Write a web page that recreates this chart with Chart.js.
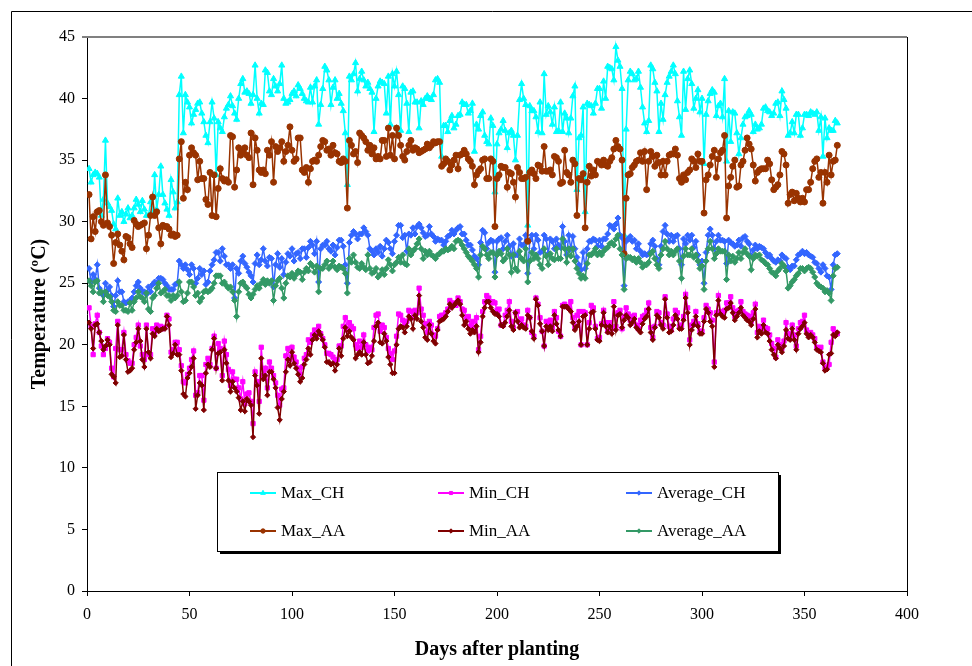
<!DOCTYPE html>
<html>
<head>
<meta charset="utf-8">
<title>Temperature</title>
<script src="https://cdn.jsdelivr.net/npm/chart.js@4.4.1/dist/chart.umd.min.js"></script>
<style>
  html, body { margin: 0; padding: 0; background: #ffffff; }
  #wrap { width: 972px; height: 666px; }
</style>
</head>
<body>
<div id="wrap"><canvas id="c" width="972" height="666"></canvas></div>
<script>
// Daily temperatures (°C) over the season, by day after planting (1..366)
const maxCH = [
34.3,33.2,33.8,34.0,33.9,33.6,30.5,31.8,36.6,31.5,
31.2,30.9,29.8,29.4,31.9,30.5,30.8,30.0,30.6,31.1,
30.3,30.5,31.1,31.8,31.4,30.8,31.7,31.0,30.5,30.5,
31.6,30.8,33.8,31.0,32.2,34.5,32.2,31.5,31.0,30.5,
33.4,32.4,31.1,31.6,40.3,41.8,37.2,40.3,39.7,39.3,
38.0,38.7,39.1,39.6,39.7,38.8,38.1,37.0,36.4,38.1,
39.7,38.4,33.8,38.1,37.6,37.3,38.5,39.2,39.5,40.2,
39.4,38.8,38.3,40.0,41.2,41.6,40.5,40.6,40.4,39.6,
40.3,42.7,40.0,38.8,39.6,39.5,42.3,42.1,40.6,40.3,
41.6,41.0,40.6,41.2,42.7,40.0,39.6,39.7,39.9,40.4,
40.6,40.2,41.1,40.8,40.4,40.0,39.8,39.7,40.9,39.7,
41.0,41.5,37.9,39.5,40.8,42.6,42.3,41.5,39.5,40.9,
41.5,40.0,40.4,39.6,39.0,37.2,33.0,41.8,41.5,42.0,
42.9,40.6,41.6,42.2,41.5,41.0,41.3,40.8,40.5,37.3,
40.0,41.0,41.4,41.3,41.2,38.8,41.8,37.9,42.0,41.0,
42.2,40.3,37.4,41.0,40.8,39.6,37.3,40.5,40.6,39.7,
39.7,37.6,39.8,39.5,40.0,40.2,40.0,39.9,40.3,41.5,
41.6,41.3,35.3,37.8,37.8,37.3,38.2,38.6,37.6,37.9,
38.6,38.7,39.7,39.5,39.5,38.8,39.0,39.6,35.7,37.9,
37.5,38.6,38.9,37.0,36.5,36.3,38.4,37.8,32.4,36.3,
37.2,37.5,38.2,37.4,36.0,37.2,37.4,37.0,35.0,37.0,
39.9,41.2,40.0,39.5,29.7,39.4,39.0,39.0,38.5,37.3,
39.7,37.2,42.0,38.7,39.4,38.9,37.9,39.3,37.3,37.4,
39.7,37.3,38.8,38.4,37.2,38.4,40.2,41.0,32.6,36.8,
37.0,39.3,30.8,39.6,39.5,39.4,38.8,39.6,40.8,40.8,
39.2,41.4,40.0,42.6,42.5,42.4,41.5,44.2,43.1,42.6,
40.8,28.9,37.5,41.5,42.2,42.0,41.5,41.6,42.2,40.9,
39.3,38.0,37.3,38.2,42.7,42.4,41.3,40.6,37.3,39.6,
38.3,40.3,41.3,41.8,42.2,42.7,42.0,39.8,38.5,37.0,
42.2,39.1,41.6,42.3,41.2,39.2,40.0,40.7,38.9,40.0,
34.7,38.7,39.8,40.4,40.7,40.5,38.6,39.4,39.6,38.5,
41.6,34.9,39.0,36.5,38.9,38.8,37.2,35.5,36.8,37.9,
38.5,38.6,39.0,38.7,37.3,37.9,37.5,37.6,37.9,39.2,
39.3,39.0,38.9,38.6,38.8,39.6,39.7,38.6,40.6,39.9,
39.2,37.0,37.2,38.1,37.2,38.7,38.7,37.0,37.6,38.7,
38.7,38.6,38.9,38.8,38.7,38.9,37.4,38.5,35.3,38.4,
36.8,37.6,37.4,37.4,38.2,38.0
];

const minCH = [
23.0,21.5,19.2,21.7,22.4,21.0,19.9,19.2,19.7,20.5,
20.2,18.1,17.4,19.7,21.9,19.6,19.6,21.0,19.2,18.7,
18.5,18.5,20.0,20.6,21.6,19.9,19.2,18.8,21.6,19.2,
19.2,21.3,21.0,21.6,21.2,21.5,21.3,21.4,22.4,22.1,
19.4,19.6,20.2,20.2,19.6,18.3,17.0,16.9,17.6,18.1,
18.8,19.5,15.9,16.1,17.5,17.5,15.5,18.4,18.9,18.4,
19.7,20.7,18.1,20.1,19.7,17.5,20.3,19.2,18.0,16.7,
17.8,17.2,17.2,16.5,15.6,17.0,15.2,16.0,16.1,15.4,
13.6,17.8,17.0,15.4,19.8,17.5,18.1,16.5,18.6,18.1,
17.5,16.9,15.9,15.1,16.4,16.5,19.1,19.7,18.8,19.8,
19.0,18.6,18.1,17.6,18.2,18.9,19.2,20.4,20.2,20.8,
21.2,20.8,21.5,20.9,20.5,20.0,19.3,19.3,19.2,19.0,
18.6,18.8,19.9,19.9,21.5,22.2,21.2,21.8,21.5,21.3,
20.0,19.7,20.3,19.8,20.8,20.0,19.5,19.8,19.6,21.4,
22.4,22.5,21.1,21.6,21.4,20.6,19.7,19.3,18.8,19.5,
20.7,22.5,22.4,22.0,21.7,21.9,22.8,22.7,22.2,22.8,
22.6,24.6,22.9,22.4,21.7,21.0,21.9,21.6,20.8,20.7,
21.3,22.3,22.4,22.4,22.6,22.9,23.6,23.3,23.4,23.2,
23.8,23.5,22.9,22.8,22.2,22.3,21.5,21.9,21.3,22.2,
19.6,20.7,22.7,23.5,24.0,23.8,23.4,23.5,23.4,22.8,
22.9,21.6,21.6,22.4,22.8,23.5,21.9,21.4,22.6,22.7,
21.8,22.1,21.6,21.5,22.8,22.2,21.0,20.7,23.8,23.3,
22.2,21.1,19.9,21.9,21.6,22.0,21.4,22.7,22.2,21.1,
20.7,23.2,23.3,23.1,23.0,23.5,22.2,21.4,22.4,22.7,
20.0,22.7,22.6,20.0,21.8,23.2,23.0,21.5,20.5,20.6,
21.7,22.8,21.8,21.1,21.8,21.3,23.5,21.5,22.6,22.8,
21.3,22.3,23.0,22.5,22.0,22.3,22.4,21.6,21.3,22.0,
22.3,22.4,22.8,23.4,21.4,20.6,21.5,22.7,22.6,21.8,
21.6,23.9,22.5,21.5,21.2,22.1,22.8,22.6,21.5,21.6,
22.3,24.1,23.0,20.4,21.6,21.9,22.7,21.7,21.1,21.1,
22.2,23.2,22.9,22.6,22.0,18.6,22.6,24.0,22.7,22.6,
22.8,23.4,23.4,23.9,23.0,22.3,22.7,22.8,23.5,22.7,
22.5,22.4,22.3,21.9,22.6,23.3,21.0,21.5,21.3,22.0,
21.4,21.3,20.8,20.1,19.7,19.0,20.4,20.0,19.7,20.3,
21.8,20.9,20.7,21.6,20.8,19.9,21.3,21.8,21.9,22.4,
21.2,20.8,21.0,20.8,20.5,19.8,19.7,19.8,18.6,18.1,
18.2,18.4,20.2,21.3,21.0,20.9
];

const avgCH = [
26.2,25.1,25.7,25.3,26.5,24.6,24.2,24.0,25.0,24.4,
24.7,24.0,23.1,24.0,25.2,24.3,24.3,23.5,23.4,23.5,
23.6,23.8,24.3,24.8,25.1,24.6,24.3,24.3,24.1,24.7,
24.3,24.9,25.1,25.0,25.4,25.4,25.3,25.0,24.8,24.5,
24.5,24.5,24.9,25.0,26.8,26.5,26.2,26.5,26.1,25.7,
26.5,26.2,25.0,25.4,26.2,25.7,26.0,24.9,25.1,26.0,
26.5,26.9,27.5,27.5,26.8,27.8,27.2,26.5,26.5,26.2,
26.5,23.8,26.2,25.8,26.8,27.2,26.6,26.3,25.9,25.6,
25.1,26.6,27.3,26.5,26.9,27.8,26.8,26.4,27.1,27.0,
24.7,26.5,27.4,26.3,27.0,25.7,26.7,27.4,27.2,27.8,
26.8,27.4,27.5,27.0,27.8,27.8,27.1,27.9,28.4,28.1,
27.4,28.4,25.1,27.8,28.1,28.1,28.4,27.8,27.6,28.1,
27.3,27.9,28.5,28.5,28.0,26.5,25.0,28.3,28.9,29.2,
29.0,28.6,29.0,29.0,29.5,29.2,28.9,27.8,27.6,27.3,
27.8,27.5,28.0,27.2,27.8,28.5,28.3,27.8,27.4,28.4,
28.9,29.7,29.7,28.7,28.9,27.6,29.0,28.9,29.5,29.0,
29.6,29.8,29.5,29.1,28.8,28.9,29.6,29.0,28.8,28.4,
28.6,28.5,28.5,28.1,28.4,28.8,28.9,29.3,29.0,29.3,
29.5,29.6,29.0,29.0,28.5,28.1,28.1,27.7,27.2,27.0,
26.5,28.3,29.3,29.1,27.8,28.3,28.5,28.4,25.9,28.4,
28.6,28.7,27.8,28.4,28.9,28.0,27.2,28.2,27.3,27.3,
28.6,28.1,28.1,28.9,25.8,28.5,28.9,27.8,28.9,28.5,
27.5,27.6,28.9,28.6,27.4,28.6,28.4,27.8,28.6,28.1,
27.9,29.6,28.4,27.3,28.9,27.8,28.8,27.8,27.1,26.5,
26.1,27.5,26.2,27.8,28.4,28.4,28.6,28.5,28.0,28.5,
28.0,28.6,28.6,29.0,29.7,29.6,29.4,29.8,30.3,28.9,
28.7,24.8,28.4,28.6,28.8,28.4,28.5,27.8,28.2,27.6,
27.3,27.4,27.3,27.4,28.2,28.5,28.0,27.0,26.5,28.0,
29.2,29.7,29.0,28.4,28.9,28.4,28.8,28.9,27.8,26.5,
28.6,28.2,28.9,28.5,28.9,27.9,28.4,27.3,26.5,26.8,
25.0,27.5,28.9,29.4,28.9,27.8,28.4,28.9,28.5,28.5,
28.4,26.6,28.5,28.3,28.2,28.0,28.1,28.5,28.0,28.7,
28.8,28.4,28.2,27.2,27.7,28.1,27.8,28.0,27.9,27.8,
27.5,27.2,27.3,27.0,26.8,26.7,26.9,26.8,27.3,27.1,
27.0,26.3,26.1,26.4,26.4,26.9,27.3,27.4,27.6,27.4,
27.5,27.3,27.2,27.1,26.7,26.6,26.2,25.9,26.5,26.2,
25.6,25.5,24.5,26.5,27.3,27.4
];

const maxAA = [
32.2,28.6,30.4,29.2,30.8,30.9,30.0,29.7,33.8,29.9,
29.6,28.9,26.6,28.3,29.0,28.1,27.6,26.9,28.8,28.7,
28.2,27.9,30.1,29.8,29.6,29.7,29.8,29.9,27.8,28.9,
30.5,32.0,30.5,30.8,29.5,28.2,29.7,29.6,29.6,29.4,
28.9,29.0,28.8,28.9,35.1,36.5,31.9,33.2,32.6,35.4,
36.0,35.6,35.4,33.4,34.9,33.5,33.5,31.8,31.4,34.0,
30.5,33.8,30.4,32.7,34.3,33.5,33.3,33.4,33.2,37.0,
36.9,32.8,34.2,36.0,35.4,35.7,36.0,35.4,35.2,37.2,
33.0,36.8,35.8,34.2,34.0,34.2,33.9,35.8,35.4,36.5,
33.2,36.1,35.7,36.0,36.5,34.9,35.7,36.2,37.7,35.8,
34.9,35.1,36.8,36.8,34.2,34.0,34.4,33.2,34.3,34.9,
35.0,34.9,35.4,36.1,36.6,36.5,35.8,35.9,35.4,36.2,
35.6,35.5,34.9,34.8,35.1,34.9,31.1,36.6,36.2,35.5,
35.7,34.8,37.2,37.0,36.8,36.5,35.8,36.2,35.5,36.0,
35.1,35.3,35.1,36.6,36.6,35.3,37.6,35.4,37.0,35.1,
37.6,37.0,36.2,35.3,35.0,35.7,36.2,36.6,35.8,36.0,
35.9,35.6,35.7,35.8,35.9,36.3,36.0,36.2,36.5,36.4,
36.5,36.5,34.5,34.7,35.1,34.9,34.2,34.6,35.0,35.4,
34.3,35.4,35.5,35.8,35.5,35.1,34.9,34.5,33.0,33.8,
34.1,34.3,35.0,35.1,33.5,33.5,35.1,34.9,29.6,33.5,
33.8,34.5,34.4,34.4,32.8,34.0,33.9,33.2,32.0,34.4,
34.0,33.5,33.5,33.6,28.4,34.0,34.2,33.9,33.5,34.6,
34.5,34.1,36.1,34.1,34.1,34.2,33.8,35.3,35.2,34.9,
33.1,33.2,35.8,34.0,33.8,33.2,35.0,34.7,30.5,33.5,
33.4,33.9,29.5,33.2,34.5,33.7,34.2,33.8,34.9,34.8,
34.6,35.0,34.6,34.5,34.9,35.2,35.9,36.6,36.1,35.9,
35.0,27.4,31.9,33.8,33.9,34.4,34.6,34.9,35.0,35.6,
34.9,35.7,32.6,34.9,35.7,35.3,34.5,35.4,34.8,33.8,
34.9,33.8,34.9,35.4,35.5,35.5,35.9,35.4,33.5,33.2,
33.8,33.4,34.0,34.2,35.1,34.9,34.4,35.5,34.9,34.9,
30.7,33.4,33.8,34.6,35.3,35.8,33.6,35.1,35.6,35.8,
37.0,30.3,32.9,33.6,34.5,35.0,32.8,32.9,34.6,34.9,
35.8,36.8,36.3,35.9,34.6,33.3,34.0,34.2,34.3,34.3,
34.3,35.0,34.7,33.4,32.6,32.8,33.0,33.8,35.7,35.5,
34.6,31.5,32.2,32.4,31.7,32.3,31.9,31.6,31.9,31.6,
32.6,32.6,33.2,34.3,34.9,35.1,33.6,34.0,31.5,34.0,
33.2,35.4,33.8,34.9,35.0,36.2
];

const minAA = [
21.8,21.3,19.7,21.6,21.7,21.0,20.3,19.6,19.9,20.4,
20.0,17.6,17.4,16.9,21.6,19.0,19.1,20.8,18.8,17.8,
17.9,18.1,19.6,20.2,21.3,20.3,18.8,18.2,21.3,19.4,
18.9,20.9,20.7,21.3,21.1,21.2,21.3,21.3,22.3,21.6,
19.0,19.3,20.0,19.2,19.2,17.9,16.0,15.8,17.3,17.7,
18.2,18.9,14.8,15.9,16.9,16.7,14.7,17.7,18.4,18.2,
19.6,20.5,18.1,19.3,19.4,17.1,19.6,18.5,17.1,16.2,
17.0,16.5,16.2,15.7,14.7,15.4,14.6,15.6,15.4,15.1,
12.5,17.5,16.7,14.4,18.9,17.2,17.5,15.9,17.8,17.8,
17.2,16.5,14.9,13.9,15.6,16.2,17.8,18.8,18.3,19.4,
18.5,18.1,17.6,17.0,17.3,18.4,18.8,19.7,19.2,20.4,
20.8,20.5,21.1,20.8,20.4,19.8,18.6,18.6,18.4,18.5,
17.9,18.4,19.7,19.1,20.5,21.4,20.7,21.1,20.6,20.4,
18.9,19.2,19.4,19.2,20.2,19.2,18.5,18.6,19.1,20.3,
21.5,21.8,20.2,20.1,20.9,20.3,19.0,18.4,17.7,17.7,
20.0,21.3,21.5,21.4,21.0,21.5,22.3,22.1,21.3,22.4,
22.1,24.0,21.9,21.4,20.6,20.4,21.6,20.9,20.3,20.1,
21.2,21.9,22.0,22.1,22.3,22.7,23.3,23.0,23.2,23.4,
23.6,23.3,22.4,21.6,21.9,21.3,20.9,21.2,21.0,21.5,
19.4,20.2,22.3,23.0,23.5,23.5,23.0,22.7,22.5,22.5,
22.3,21.6,21.5,21.8,22.3,22.8,21.5,21.2,22.6,21.9,
21.4,21.6,21.4,21.3,22.4,22.2,21.1,20.5,23.7,23.2,
21.7,21.1,19.9,21.5,21.2,21.5,21.1,22.4,21.7,21.2,
20.7,23.1,23.1,23.1,22.9,22.7,21.8,21.2,21.5,21.9,
20.0,22.3,22.4,20.0,21.3,22.6,22.7,21.3,20.4,20.3,
21.6,22.6,21.5,21.0,21.5,20.9,23.1,21.2,22.4,22.5,
21.4,22.0,22.4,22.2,21.6,21.8,22.1,21.4,21.2,21.0,
21.7,22.1,22.3,22.9,21.0,20.4,21.4,22.4,22.2,21.6,
21.3,23.7,22.2,21.0,21.1,21.6,22.4,22.1,21.3,21.3,
22.0,23.8,22.6,20.0,21.2,21.6,22.3,21.5,20.9,20.9,
21.9,22.9,22.6,21.9,21.5,18.2,22.4,23.6,22.5,22.3,
22.2,22.9,23.0,23.4,22.6,22.0,22.3,22.6,23.0,22.4,
22.2,22.0,21.9,21.6,22.1,22.9,20.6,21.1,20.9,21.6,
21.0,20.9,20.3,19.6,19.2,18.9,20.0,19.7,19.4,19.9,
21.2,20.5,20.4,21.3,20.4,19.6,20.9,21.3,21.5,21.8,
20.9,20.6,20.8,20.6,20.2,19.6,19.5,19.4,18.5,17.9,
18.0,19.2,19.3,20.8,20.7,21.0
];

const avgAA = [
25.2,24.8,24.3,25.1,25.2,24.2,24.3,23.5,24.3,24.0,
23.9,23.5,22.8,22.7,23.5,23.2,23.2,22.8,22.8,22.7,
23.4,22.8,23.5,23.8,24.3,23.9,23.8,23.5,24.2,22.9,
22.7,23.8,24.0,24.6,25.0,24.2,24.3,24.5,24.0,24.0,
23.6,24.0,23.8,24.0,25.1,24.3,23.5,23.6,24.2,25.1,
25.1,24.7,24.0,24.2,23.5,23.8,24.3,24.4,24.3,24.4,
24.6,25.0,25.6,25.6,25.6,25.0,25.1,24.8,24.6,24.7,
24.3,23.6,22.3,24.3,25.0,25.1,24.8,24.6,24.1,23.8,
24.1,24.5,24.8,24.6,25.0,25.3,24.9,25.2,25.0,25.2,
23.6,24.8,25.2,25.4,24.6,23.8,25.0,25.6,25.5,25.8,
25.4,25.7,26.0,25.9,25.3,25.9,26.2,26.0,26.6,26.4,
25.9,26.4,24.3,26.2,26.2,26.5,26.8,26.2,26.4,26.8,
26.3,26.1,26.4,26.3,26.2,25.8,24.2,27.0,26.7,27.3,
26.7,26.3,26.2,26.6,26.3,26.1,27.3,26.2,25.8,25.9,
26.2,25.5,25.7,26.1,25.7,26.2,26.9,26.5,26.0,26.5,
26.7,27.1,26.7,27.3,26.6,26.5,27.8,27.3,27.6,27.8,
28.2,28.6,27.8,27.0,27.6,27.3,27.6,27.3,27.2,27.0,
27.3,27.4,27.6,27.6,27.8,27.7,27.8,28.0,27.8,28.4,
28.5,28.4,28.1,27.8,27.5,27.2,27.0,26.8,26.5,26.2,
25.5,27.3,28.0,27.8,27.3,27.0,27.5,27.5,25.5,27.3,
27.6,27.4,26.8,27.0,27.8,27.3,25.9,27.3,26.2,26.0,
27.6,27.0,26.8,27.8,25.1,26.8,27.5,27.0,27.3,27.0,
26.5,26.2,27.8,27.2,26.5,27.4,27.0,26.9,27.8,27.0,
27.0,28.6,27.8,26.7,27.8,27.2,27.8,26.8,26.2,25.8,
25.4,25.6,25.4,26.6,27.3,27.3,27.5,27.8,27.3,27.5,
27.3,27.6,27.8,27.9,28.2,28.3,28.1,28.6,28.9,27.8,
27.3,24.5,27.0,27.1,27.1,26.9,27.0,26.7,27.0,26.7,
26.3,26.5,26.5,26.7,27.4,27.6,27.0,26.5,26.2,27.3,
27.8,28.4,27.8,27.3,27.6,27.3,27.6,27.8,26.8,25.4,
27.2,27.8,27.3,27.3,27.8,27.1,27.3,26.8,26.2,26.4,
24.5,26.8,27.8,28.4,27.8,27.0,27.4,27.8,27.6,27.6,
27.6,25.3,27.3,26.8,27.2,26.7,27.0,27.5,27.0,27.5,
27.8,27.4,27.2,26.1,27.0,27.3,27.2,27.3,26.9,26.8,
26.6,26.5,26.2,25.9,25.8,25.6,26.0,26.2,26.6,26.4,
26.0,24.6,24.8,25.1,25.3,25.6,25.8,26.2,26.2,26.0,
26.2,26.3,26.2,25.9,25.5,25.0,24.8,24.7,24.6,24.3,
24.4,24.2,23.6,25.6,26.2,26.3
];

// Day numbers along the x axis (one per reading)
const days = maxCH.map((_, i) => i + 1);

const seriesNames = ['Max_CH', 'Min_CH', 'Average_CH', 'Max_AA', 'Min_AA', 'Average_AA'];
const seriesValues = [maxCH, minCH, avgCH, maxAA, minAA, avgAA];
const seriesColors = ['#00FFFF', '#FF00FF', '#3366FF', '#993300', '#800000', '#339966'];
const seriesMarkers = ['triangle', 'rect', 'rectRot', 'circle', 'rectRot', 'rectRot'];
const seriesRadius = [3.5, 3, 3, 3, 2.6, 3];

const SERIF = "'Times New Roman', 'Liberation Serif', serif";

// Outer frame, plot-area border and the boxed legend inside the plot
const decorations = {
  id: 'decorations',
  beforeDraw(chart) {
    const ctx = chart.ctx;
    ctx.save();
    ctx.fillStyle = '#ffffff';
    ctx.fillRect(0, 0, chart.width, chart.height);
    ctx.strokeStyle = '#000000';
    ctx.lineWidth = 1;
    ctx.beginPath();
    ctx.moveTo(11.5, chart.height + 5);
    ctx.lineTo(11.5, 11.5);
    ctx.lineTo(chart.width + 5, 11.5);
    ctx.stroke();
    ctx.restore();
  },
  afterDraw(chart) {
    const ctx = chart.ctx;
    const a = chart.chartArea;
    ctx.save();
    // plot-area top (grey) and right (black) edges
    ctx.strokeStyle = '#808080';
    ctx.lineWidth = 2;
    ctx.beginPath();
    ctx.moveTo(a.left - 5, a.top);
    ctx.lineTo(a.right, a.top);
    ctx.stroke();
    ctx.strokeStyle = '#000000';
    ctx.lineWidth = 1;
    ctx.beginPath();
    ctx.moveTo(Math.round(a.right) + 0.5, a.top);
    ctx.lineTo(Math.round(a.right) + 0.5, a.bottom);
    ctx.stroke();

    // legend box with drop shadow
    const bx = 217, by = 472, bw = 561, bh = 79;
    ctx.fillStyle = '#000000';
    ctx.fillRect(bx + 3, by + 3, bw, bh);
    ctx.fillStyle = '#ffffff';
    ctx.fillRect(bx, by, bw, bh);
    ctx.strokeStyle = '#000000';
    ctx.lineWidth = 1;
    ctx.strokeRect(bx + 0.5, by + 0.5, bw, bh);

    const colX = [250, 438, 626];
    const rowY = [493, 531];
    ctx.font = '17px ' + SERIF;
    ctx.textBaseline = 'middle';
    ctx.textAlign = 'left';
    chart.data.datasets.forEach((ds, i) => {
      const x0 = colX[i % 3];
      const y0 = rowY[Math.floor(i / 3)];
      ctx.strokeStyle = ds.borderColor;
      ctx.lineWidth = 2;
      ctx.beginPath();
      ctx.moveTo(x0, y0);
      ctx.lineTo(x0 + 26, y0);
      ctx.stroke();
      ctx.fillStyle = ds.pointBackgroundColor;
      ctx.strokeStyle = ds.pointBorderColor;
      ctx.lineWidth = 1;
      Chart.helpers.drawPoint(ctx, {
        pointStyle: ds.pointStyle, rotation: 0,
        radius: Math.max(2.2, ds.pointRadius - 0.8), borderWidth: 1
      }, x0 + 13, y0);
      ctx.fillStyle = '#000000';
      ctx.fillText(ds.label, x0 + 31, y0 + 1);
    });
    ctx.restore();
  }
};

const datasets = seriesNames.map((name, i) => ({
  label: name,
  data: seriesValues[i],
  borderColor: seriesColors[i],
  backgroundColor: seriesColors[i],
  pointBackgroundColor: seriesColors[i],
  pointBorderColor: seriesColors[i],
  pointBorderWidth: 1,
  pointStyle: seriesMarkers[i],
  pointRadius: seriesRadius[i],
  borderWidth: 1.5,
  tension: 0,
  fill: false,
  order: seriesNames.length - i
}));

new Chart(document.getElementById('c'), {
  type: 'line',
  data: { labels: days, datasets },
  plugins: [decorations],
  options: {
    responsive: false,
    devicePixelRatio: 1,
    animation: false,
    layout: { padding: { left: 0, top: 37, right: 65, bottom: 0 } },
    plugins: { legend: { display: false }, tooltip: { enabled: false } },
    scales: {
      x: {
        type: 'linear',
        min: 0, max: 400,
        afterFit(scale) { scale.height = 75; },
        ticks: { stepSize: 50, color: '#000000', padding: 9, maxRotation: 0,
                 font: { family: SERIF, size: 16 } },
        grid: { drawOnChartArea: false, tickLength: 5, color: '#000000' },
        border: { display: true, color: '#000000', width: 1 },
        title: { display: true, text: 'Days after planting', color: '#000000',
                 padding: { top: 0, bottom: 4 },
                 font: { family: SERIF, size: 20, weight: 'bold', lineHeight: 1.2 } }
      },
      y: {
        min: 0, max: 45,
        afterFit(scale) { scale.width = 87; },
        ticks: { stepSize: 5, color: '#000000', padding: 7,
                 font: { family: SERIF, size: 16 } },
        grid: { drawOnChartArea: false, tickLength: 5, color: '#000000' },
        border: { display: true, color: '#000000', width: 1 },
        title: { display: true, text: 'Temperature (ºC)', color: '#000000',
                 padding: { top: 28, bottom: 0 },
                 font: { family: SERIF, size: 20, weight: 'bold', lineHeight: 1.2 } }
      }
    }
  }
});
</script>
</body>
</html>
